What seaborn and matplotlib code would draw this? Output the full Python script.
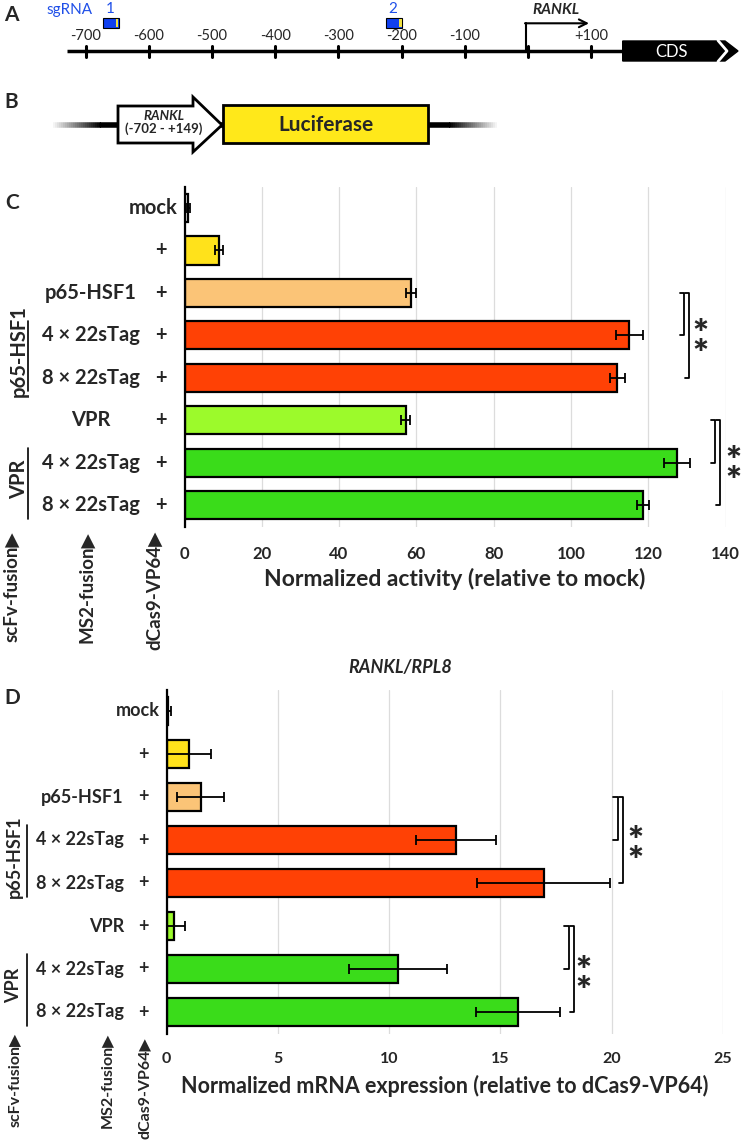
import matplotlib
matplotlib.use("Agg")
import matplotlib.pyplot as plt
import matplotlib.transforms as mtransforms
from matplotlib.patches import Rectangle, Polygon
import seaborn as sns
import pandas as pd

# ======================
# Data
# ======================
rows = ["mock", "dCas9", "p65", "p65_4x", "p65_8x", "vpr", "vpr_4x", "vpr_8x"]
ms2_labels = ["", "", "p65-HSF1", "4 × 22sTag", "8 × 22sTag", "VPR", "4 × 22sTag", "8 × 22sTag"]
dcas9_labels = ["", "+", "+", "+", "+", "+", "+", "+"]
scfv_groups = [("p65-HSF1", 3, 4), ("VPR", 6, 7)]

activity = [1.0, 9.0, 58.7, 115.1, 112.0, 57.2, 127.4, 118.6]
activity_err = [0.3, 1.0, 1.3, 3.5, 2.0, 1.1, 3.4, 1.6]
activity_ticks = [0, 20, 40, 60, 80, 100, 120, 140]

mrna = [0.08, 1.02, 1.54, 13.02, 16.94, 0.32, 10.42, 15.79]
mrna_err = [0.1, 1.0, 1.05, 1.8, 3.0, 0.53, 2.2, 1.9]
mrna_ticks = [0, 5, 10, 15, 20, 25]

bar_colors = ["#FFFFFF", "#FFE21B", "#FBC477", "#FF4105", "#FF4105",
              "#9CFA2B", "#3ADC1A", "#3ADC1A"]

# significance: (first row, second row, bracket x)
sig_c = [(2, 3, 129.2), (2, 4, 130.5), (5, 6, 137.3), (5, 7, 138.6)]
sig_d = [(2, 3, 20.27), (2, 4, 20.51), (5, 6, 18.07), (5, 7, 18.31)]
stars_c = [(133.4, 3.0), (142.1, 6.0)]
stars_d = [(21.07, 3.05), (18.75, 6.08)]

promoter_ticks = [-700, -600, -500, -400, -300, -200, -100, 0, 100]
sgrna_pos = [-660, -212]
sgrna_names = ["1", "2"]

W, H = 742, 1145
FONT = "Lato"

sns.set_style("white")
plt.rcParams["font.family"] = [FONT, "DejaVu Sans"]

fig = plt.figure(figsize=(W / 100, H / 100), dpi=100)

ov = fig.add_axes([0, 0, 1, 1])
ov.set_xlim(0, W)
ov.set_ylim(H, 0)
ov.axis("off")


def px_axes(left, top, right, bottom):
    return fig.add_axes([left / W, 1 - bottom / H, (right - left) / W, (bottom - top) / H])


def bp2px(bp):
    return 528.0 + bp * 0.632


# ======================
# Panel A
# ======================
ov.text(11, 15, "A", fontsize=15, fontweight="bold", ha="center", va="center")
ov.plot([67, 623], [50.7, 50.7], color="black", lw=2.5, solid_capstyle="butt")
for bp in promoter_ticks:
    x = bp2px(bp)
    ov.plot([x, x], [46, 57], color="black", lw=2.2)
    if bp != 0:
        lab = f"+{bp}" if bp > 0 else str(bp)
        ov.text(x, 36, lab, fontsize=10.5, ha="center", va="center")
ov.add_patch(Polygon([(622.7, 41), (725, 41), (738, 51), (725, 61), (622.7, 61)],
                     closed=True, facecolor="black", edgecolor="black"))
ov.plot([718, 727, 718], [40.5, 51, 61.5], color="white", lw=2)
ov.text(671, 52, "CDS", color="white", fontsize=12, ha="center", va="center")
ov.plot([525.7, 525.7], [50.7, 23.3], color="black", lw=1.5)
ov.annotate("", xy=(589, 23.3), xytext=(525, 23.3),
            arrowprops=dict(arrowstyle="->", lw=1.5, color="black", shrinkA=0, shrinkB=0,
                            mutation_scale=14))
ov.text(556, 10.5, "RANKL", fontsize=11, fontweight="bold", style="italic", ha="center", va="center")
ov.text(70, 10, "sgRNA", fontsize=11, color="#1F4FE8", ha="center", va="center")
for bp, name in zip(sgrna_pos, sgrna_names):
    x = bp2px(bp)
    ov.add_patch(Rectangle((x - 8, 18), 16, 9.5, facecolor="#1040F0", edgecolor="black", lw=0.8))
    ov.add_patch(Rectangle((x + 5, 18.5), 2.5, 8.5, facecolor="#F0E040", edgecolor="none"))
    ov.text(x - 1, 9, name, fontsize=11, color="#1F4FE8", ha="center", va="center")

# ======================
# Panel B
# ======================
ov.text(11, 102, "B", fontsize=15, fontweight="bold", ha="center", va="center")
n_fade = 24
for i in range(n_fade):
    a = (i + 1) / n_fade
    x0 = 53 + i * 2
    ov.plot([x0, x0 + 2.2], [125, 125], color="black", alpha=a, lw=4, solid_capstyle="butt")
    x1 = 497 - i * 2
    ov.plot([x1 - 2.2, x1], [125, 125], color="black", alpha=a, lw=4, solid_capstyle="butt")
ov.plot([100, 450], [125, 125], color="black", lw=4, solid_capstyle="butt")
ov.add_patch(Polygon([(118, 106), (193, 106), (193, 97), (222, 125), (193, 152),
                      (193, 143), (118, 143)], closed=True,
                     facecolor="white", edgecolor="black", lw=2, zorder=3))
ov.text(164, 116.5, "RANKL", fontsize=9.5, fontweight="bold", style="italic", ha="center", va="center", zorder=4)
ov.text(164, 128.5, "(-702 - +149)", fontsize=9.5, fontweight="bold", ha="center", va="center", zorder=4)
ov.add_patch(Rectangle((223, 105), 205, 38, facecolor="#FFE81A", edgecolor="black", lw=2, zorder=3))
ov.text(326, 125, "Luciferase", fontsize=15, fontweight="bold", ha="center", va="center", zorder=4)


# ======================
# Bar panels
# ======================
def bar_panel(ax, values, errs, ticks, xlabel, sig, stars, cfg):
    df = pd.DataFrame({"row": rows, "value": values})
    sns.barplot(data=df, x="value", y="row", hue="row", palette=bar_colors, legend=False,
                orient="h", edgecolor="black", linewidth=1.6, width=0.66, saturation=1,
                errorbar=None, ax=ax)
    ax.errorbar(values, range(len(rows)), xerr=errs, fmt="none", ecolor="black",
                elinewidth=1.3, capsize=3.5, capthick=1.3, zorder=5)
    ax.set_facecolor("none")
    ax.set_xlim(ticks[0], ticks[-1])
    ax.set_ylim(len(rows) - 0.5, -0.5)
    ax.set_xticks(ticks)
    ax.set_xticklabels([str(t) for t in ticks], fontsize=cfg["tick_fs"], fontweight="bold")
    ax.tick_params(axis="x", length=0, pad=cfg["tick_pad"])
    ax.set_yticks([])
    ax.set_ylabel("")
    ax.set_xlabel(xlabel, fontsize=cfg["xlab_fs"], fontweight="bold", labelpad=cfg["xlab_pad"])
    ax.grid(axis="x", color="#dcdcdc", lw=0.9)
    ax.set_axisbelow(True)
    for s in ["top", "right", "bottom"]:
        ax.spines[s].set_visible(False)
    ax.spines["left"].set_linewidth(1.6)
    ax.spines["left"].set_color("black")

    d = cfg["serif"]
    for r0, r1, x in sig:
        ax.plot([x - d, x, x, x - d], [r0, r0, r1, r1], color="black", lw=1.3, clip_on=False)
    for x, r in stars:
        ax.text(x, r + 0.22, "*\n*", fontsize=cfg["star_fs"], fontweight="heavy",
                linespacing=0.5, ha="center", va="center", clip_on=False)

    tr = mtransforms.blended_transform_factory(ov.transData, ax.transData)
    fs = cfg["lab_fs"]
    ax.text(cfg["mock_x"], 0, "mock", transform=tr, fontsize=fs, fontweight="bold",
            ha="right", va="center")
    for i, (m, p) in enumerate(zip(ms2_labels, dcas9_labels)):
        if p:
            ax.text(cfg["plus_x"], i, p, transform=tr, fontsize=fs, fontweight="bold",
                    ha="center", va="center")
        if m:
            ax.text(cfg["ms2_x"], i, m, transform=tr, fontsize=fs, fontweight="bold",
                    ha=cfg["ms2_ha"], va="center")
    for name, r0, r1 in scfv_groups:
        ax.plot([cfg["grp_x"], cfg["grp_x"]], [r0 - 0.35, r1 + 0.32], transform=tr,
                color="black", lw=1.2, clip_on=False)
        ax.text(cfg["grp_text_x"], (r0 + r1) / 2 - 0.12, name, transform=tr, fontsize=fs,
                fontweight="bold", rotation=90, ha="center", va="center")


cfg_c = dict(tick_fs=12, tick_pad=14, xlab_fs=16.5, xlab_pad=4, serif=1.1, star_fs=27,
             lab_fs=14.5, mock_x=178, plus_x=161, ms2_x=91, ms2_ha="center",
             grp_x=28, grp_text_x=19)
cfg_d = dict(tick_fs=11.5, tick_pad=13, xlab_fs=15.5, xlab_pad=7, serif=0.2, star_fs=27,
             lab_fs=13, mock_x=160, plus_x=143, ms2_x=124, ms2_ha="right",
             grp_x=27, grp_text_x=14)

axc = px_axes(184.5, 186.8, 725.5, 526.5)
bar_panel(axc, activity, activity_err, activity_ticks,
          "Normalized activity (relative to mock)", sig_c, stars_c, cfg_c)
ov.text(12, 203, "C", fontsize=15, fontweight="bold", ha="center", va="center")

axd = px_axes(166.5, 689.5, 723, 1033.5)
bar_panel(axd, mrna, mrna_err, mrna_ticks,
          "Normalized mRNA expression (relative to dCas9-VP64)", sig_d, stars_d, cfg_d)
ov.text(12, 698, "D", fontsize=15, fontweight="bold", ha="center", va="center")

ov.text(400, 667, "RANKL/RPL8", fontsize=13, fontweight="bold", style="italic",
        ha="center", va="center")

# rotated construct labels under the row labels
bottom_labels = ["scFv-fusion▶", "MS2-fusion▶", "dCas9-VP64▶"]
for lab, x in zip(bottom_labels, [12, 87, 155]):
    ov.text(x, 531, lab, fontsize=13.5, fontweight="bold", rotation=90,
            ha="center", va="top", family=[FONT, "DejaVu Sans"])
for lab, x, y in zip(bottom_labels, [15, 107, 145], [1033, 1033, 1037]):
    ov.text(x, y, lab, fontsize=11.5, fontweight="bold", rotation=90,
            ha="center", va="top", family=[FONT, "DejaVu Sans"])

fig.savefig("out.png", dpi=100)
